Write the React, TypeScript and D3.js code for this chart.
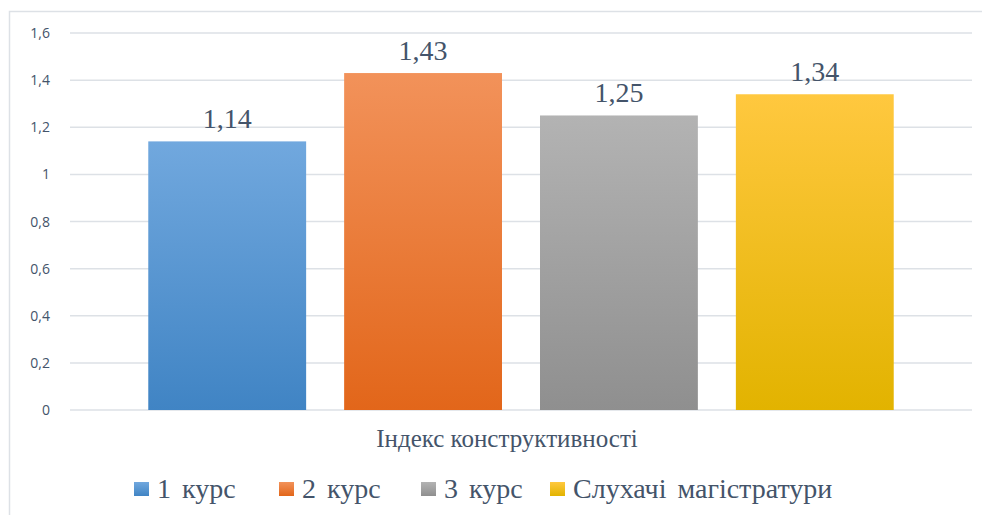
import { useEffect, useRef } from "react";
import * as d3 from "d3";

const categories = ["Індекс конструктивності"];
const seriesNames = ["1 курс", "2 курс", "3 курс", "Слухачі магістратури"];
const seriesValues = [1.14, 1.43, 1.25, 1.34];
const yTicks = [0, 0.2, 0.4, 0.6, 0.8, 1, 1.2, 1.4, 1.6];
// top / bottom of each bar's vertical gradient
const colorsTop = ["#71a8de", "#f2925a", "#b3b3b3", "#ffc83f"];
const colorsBottom = ["#4084c4", "#e2661a", "#8f8f8f", "#e2b300"];

const W = 982;
const H = 515;

export default function App() {
  const svgRef = useRef<SVGSVGElement>(null);

  useEffect(() => {
    if (!svgRef.current) return;
    const svg = d3.select(svgRef.current);
    svg.selectAll("*").remove();

    const left = 70;
    const right = 972;
    const top = 33;
    const bottom = 410;
    const textColor = "#44546a";
    const serif = "'Liberation Serif', 'Times New Roman', serif";

    const y = d3.scaleLinear().domain([0, 1.6]).range([bottom, top]);
    const x0 = d3.scaleBand<string>().domain(categories).range([left, right]).paddingInner(0).paddingOuter(0.105);
    const x1 = d3.scaleBand<string>().domain(seriesNames).range([0, x0.bandwidth()]).paddingInner(0.194).paddingOuter(0);
    const fmt = (v: number) => String(v).replace(".", ",");

    // chart border
    svg.append("rect")
      .attr("x", 9.5).attr("y", 11.5)
      .attr("width", W + 10).attr("height", H + 10)
      .attr("fill", "white")
      .attr("stroke", "#dde1e6")
      .attr("stroke-width", 1.5);

    const defs = svg.append("defs");
    seriesNames.forEach((_, i) => {
      const g = defs.append("linearGradient")
        .attr("id", `grad-${i}`)
        .attr("x1", 0).attr("y1", 0).attr("x2", 0).attr("y2", 1);
      g.append("stop").attr("offset", "0%").attr("stop-color", colorsTop[i]);
      g.append("stop").attr("offset", "100%").attr("stop-color", colorsBottom[i]);
    });

    // gridlines
    svg.append("g")
      .selectAll("line")
      .data(yTicks)
      .join("line")
      .attr("x1", left).attr("x2", right)
      .attr("y1", (d) => y(d)).attr("y2", (d) => y(d))
      .attr("stroke", "#dde1e6")
      .attr("stroke-width", 1.5);

    // y tick labels
    svg.append("g")
      .selectAll("text")
      .data(yTicks)
      .join("text")
      .attr("x", 50)
      .attr("y", (d) => y(d) + 5)
      .attr("text-anchor", "end")
      .attr("font-family", "'Open Sans', sans-serif")
      .attr("font-size", 14)
      .attr("fill", textColor)
      .text((d) => fmt(d));

    const cat = categories[0];
    const bars = svg.append("g").attr("transform", `translate(${x0(cat)},0)`);

    bars.selectAll("rect")
      .data(seriesValues)
      .join("rect")
      .attr("x", (_, i) => x1(seriesNames[i])!)
      .attr("y", (d) => y(d))
      .attr("width", x1.bandwidth())
      .attr("height", (d) => bottom - y(d))
      .attr("fill", (_, i) => `url(#grad-${i})`);

    bars.selectAll("text")
      .data(seriesValues)
      .join("text")
      .attr("x", (_, i) => x1(seriesNames[i])! + x1.bandwidth() / 2)
      .attr("y", (d) => y(d) - 13)
      .attr("text-anchor", "middle")
      .attr("font-family", serif)
      .attr("font-size", 28)
      .attr("fill", textColor)
      .text((d) => fmt(d));

    // category axis label (sits slightly left of the plot centre in the original)
    svg.append("text")
      .attr("x", x0(cat)! + x0.bandwidth() / 2 - 14)
      .attr("y", 447)
      .attr("text-anchor", "middle")
      .attr("font-family", serif)
      .attr("font-size", 25)
      .attr("fill", textColor)
      .text(cat);

    // legend
    const legendX = [134, 279, 421, 550];
    const lg = svg.append("g")
      .selectAll("g")
      .data(seriesNames)
      .join("g")
      .attr("transform", (_, i) => `translate(${legendX[i]},482)`);
    lg.append("rect")
      .attr("width", 15).attr("height", 14)
      .attr("fill", (_, i) => `url(#grad-${i})`);
    lg.append("text")
      .attr("x", 23)
      .attr("y", 16)
      .attr("font-family", serif)
      .attr("font-size", 28)
      .attr("fill", textColor)
      .attr("word-spacing", 4)
      .text((d) => d);
  }, []);

  return (
    <svg
      ref={svgRef}
      width={W}
      height={H}
      style={{ position: "absolute", left: 0, top: 0, background: "white" }}
    />
  );
}
